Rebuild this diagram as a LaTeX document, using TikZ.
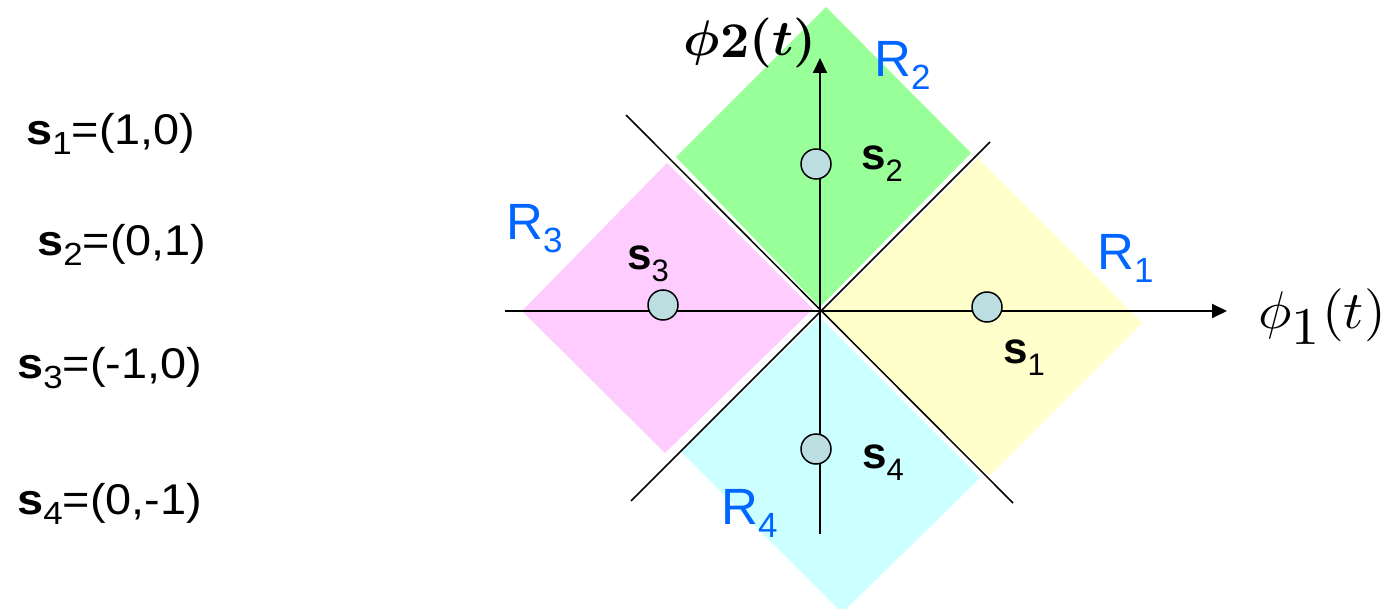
\documentclass[tikz,border=0pt]{standalone}
\usepackage{graphicx}
\usepackage{fontspec}
\newfontfamily\arial{Liberation Sans}
\usetikzlibrary{arrows.meta}
\definecolor{rgreen}{RGB}{153,255,153}
\definecolor{ryellow}{RGB}{255,255,204}
\definecolor{rpink}{RGB}{255,204,255}
\definecolor{rcyan}{RGB}{204,255,255}
\definecolor{ptfill}{RGB}{188,222,224}
\definecolor{rblue}{RGB}{0,102,255}
\newcommand{\sdot}[1]{\textbf{s}\raisebox{-12pt}{\fontsize{31}{31}\selectfont #1}}
\newcommand{\rname}[1]{R\raisebox{-13pt}{\fontsize{35}{35}\selectfont #1}}
\newcommand{\sdef}[2]{\scalebox{1.09}[1]{\textbf{s}\raisebox{-10pt}{\fontsize{32}{32}\selectfont #1}=#2}}
\newcommand{\phiaxis}[1]{$\phi_{\textstyle #1}(t)$}
\newcommand{\phibold}[1]{\scalebox{5.1}[5.0]{\boldmath$\phi\raisebox{-0.4pt}{$#1$}(t)$}}
\newcommand{\phiwide}[1]{\scalebox{5.6}[5.3]{\phiaxis{#1}}}
\begin{document}
\begin{tikzpicture}[x=1pt,y=-1pt,
  divider/.style={line width=1.5pt},
  axis/.style={line width=2pt,-{Triangle[length=15pt,width=14pt]}},
  pt/.style={circle,draw,line width=1.5pt,fill=ptfill,minimum size=30pt,inner sep=0pt},
  slabel/.style={anchor=base west,inner sep=0pt,font=\arial\fontsize{44}{44}\selectfont},
  rlabel/.style={anchor=base west,inner sep=0pt,text=rblue,font=\arial\fontsize{51}{51}\selectfont},
  deflabel/.style={anchor=base west,inner sep=0pt,font=\arial\fontsize{43}{43}\selectfont},
  axlabel/.style={inner sep=0pt,anchor=center}
]
\useasboundingbox (0,0) rectangle (1388,609);
% decision regions
\fill[rgreen] (826,7) -- (971,153) -- (820,307) -- (676,157) -- cycle;
\fill[ryellow] (822,313) -- (978,158) -- (1142,323) -- (989,476) -- cycle;
\fill[rpink] (522,311) -- (667,163) -- (813,309) -- (665,453) -- cycle;
\fill[rcyan] (819,317) -- (980,478) -- (842,613) -- (681,452) -- cycle;
% boundaries
\coordinate (d1a) at (626,115); \coordinate (d1b) at (1013,503);
\coordinate (d2a) at (990,142); \coordinate (d2b) at (631,501);
\draw[divider] (d1a) -- (d1b);
\draw[divider] (d2a) -- (d2b);
% axes
\coordinate (xl) at (505,311); \coordinate (xr) at (1227,311);
\coordinate (yb) at (820,534); \coordinate (yt) at (820,58);
\draw[axis] (xl) -- (xr);
\draw[axis] (yb) -- (yt);
% signal points
\node[pt] (p1) at (987,307) {};
\node[pt] (p2) at (816,164) {};
\node[pt] (p3) at (663,305) {};
\node[pt] (p4) at (816,449) {};
% point labels
\node[slabel] (l1) at (1003,363) {\sdot{1}};
\node[slabel] (l2) at (861,170) {\sdot{2}};
\node[slabel] (l3) at (627,270) {\sdot{3}};
\node[slabel] (l4) at (862,468) {\sdot{4}};
% region labels
\node[rlabel] (r1) at (1097,270) {\rname{1}};
\node[rlabel] (r2) at (874,77) {\rname{2}};
\node[rlabel] (r3) at (506,240) {\rname{3}};
\node[rlabel] (r4) at (721,524) {\rname{4}};
% axis labels
\node[axlabel] (phitwo) at (750,43) {\phibold{2}};
\node[axlabel] (phione) at (1322,317) {\phiwide{1}};
% definitions
\node[deflabel] (e1) at (26,145) {\sdef{1}{(1,0)}};
\node[deflabel] (e2) at (37,256) {\sdef{2}{(0,1)}};
\node[deflabel] (e3) at (17,378) {\sdef{3}{(-1,0)}};
\node[deflabel] (e4) at (17,514) {\sdef{4}{(0,-1)}};
\end{tikzpicture}
\end{document}
